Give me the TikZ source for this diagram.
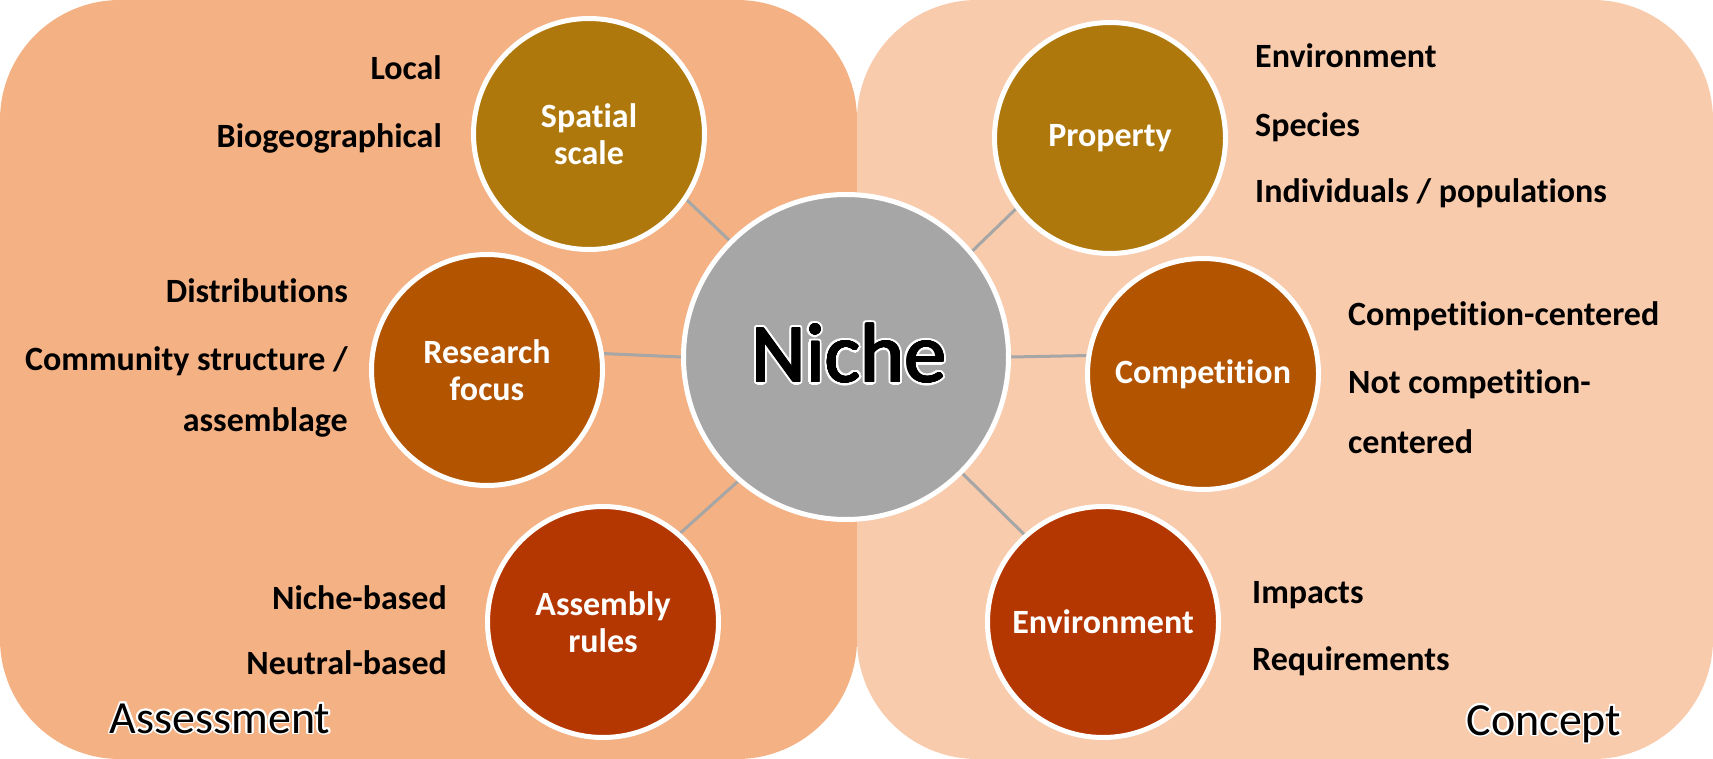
\documentclass[tikz,border=0pt]{standalone}
\usepackage{fontspec}
\setmainfont{Carlito}[Ligatures=CommonOff]
\usepackage[copies]{contour}
\pgfdeclarelayer{panels}
\pgfdeclarelayer{links}
\pgfsetlayers{panels,links,main}
\definecolor{assessbg}{HTML}{F4B183}
\definecolor{conceptbg}{HTML}{F8CBAD}
\definecolor{gold}{HTML}{AE780D}
\definecolor{rust}{HTML}{B25400}
\definecolor{brick}{HTML}{B43600}
\definecolor{hubgray}{HTML}{A6A6A6}
% black word with a thin black edge inside a white halo
\newcommand{\haloword}[3]{%
  {\contourlength{#1}\rlap{\contour{white}{#3}}}%
  {\contourlength{#2}\contour{black}{#3}}}
\begin{document}
\begin{tikzpicture}[x=1pt,y=-1pt,
  panel/.style={rounded corners=120pt},
  link/.style={draw=hubgray, line width=3pt},
  topic/.style={circle, draw=white, line width=5pt, inner sep=0pt,
    minimum size=231pt, text=white, align=center,
    font=\fontsize{34}{37}\selectfont\bfseries},
  hub/.style={circle, draw=white, line width=5pt, inner sep=0pt,
    minimum size=325pt, fill=hubgray},
  item/.style={inner sep=0pt, font=\fontsize{34}{41}\selectfont\bfseries},
  leftitem/.style={item, anchor=base east},
  rightitem/.style={item, anchor=base west},
  corner/.style={inner sep=0pt, anchor=base, font=\fontsize{46}{52}\selectfont}
]
\useasboundingbox (0,0) rectangle (1713,759);

% two background panels
\begin{pgfonlayer}{panels}
  \fill[assessbg, panel] (0,0) rectangle (857,759);
  \fill[conceptbg, panel] (857,0) rectangle (1713,759);
\end{pgfonlayer}

% central hub
\node[hub] (niche) at (846,357) {};
\node[inner sep=0pt, anchor=base, font=\fontsize{84}{90}\selectfont] (nichetext) at (849,382) {\haloword{3pt}{0.7pt}{Niche}};

% assessment side
\node[topic, fill=gold]  (spatial)  at (589,134) {Spatial\\scale};
\node[topic, fill=rust]  (research) at (487,370) {Research\\focus};
\node[topic, fill=brick] (assembly) at (603,622) {Assembly\\rules};

% concept side
\node[topic, fill=gold]  (property)    at (1110,138) {Property};
\node[topic, fill=rust]  (competition) at (1203,374) {Competition};
\node[topic, fill=brick] (environment) at (1103,622) {Environment};

% connectors
\begin{pgfonlayer}{links}
  \draw[link] (spatial.-34)     -- (niche.135);
  \draw[link] (research.8)      -- (niche.180);
  \draw[link] (assembly.49)     -- (niche.229);
  \draw[link] (property.217)    -- (niche.40);
  \draw[link] (competition.171) -- (niche.0);
  \draw[link] (environment.132) -- (niche.-45);
\end{pgfonlayer}

% items of the assessment side
\node[leftitem] (local)   at (442,80)  {Local};
\node[leftitem] (biogeo)  at (442,148) {Biogeographical};
\node[leftitem] (distrib) at (348,302) {Distributions};
\node[leftitem] (commun)  at (348,370) {Community structure /};
\node[leftitem] (assembl) at (348,431) {assemblage};
\node[leftitem] (nicheb)  at (447,609) {Niche-based};
\node[leftitem] (neutral) at (447,674) {Neutral-based};

% items of the concept side
\node[rightitem] (envitem)  at (1255,68)  {Environment};
\node[rightitem] (species)  at (1255,137) {Species};
\node[rightitem] (indiv)    at (1255,203) {Individuals / populations};
\node[rightitem] (compcent) at (1348,325) {Competition-centered};
\node[rightitem] (notcomp)  at (1348,393) {Not competition-};
\node[rightitem] (centered) at (1348,453) {centered};
\node[rightitem] (impacts)  at (1252,603) {Impacts};
\node[rightitem] (requir)   at (1252,670) {Requirements};

% panel titles
\contourlength{1.8pt}
\node[corner] (assessment) at (220,733) {\contour{white}{Assessment}};
\node[corner] (concept)    at (1544,735) {\contour{white}{Concept}};
\end{tikzpicture}
\end{document}
